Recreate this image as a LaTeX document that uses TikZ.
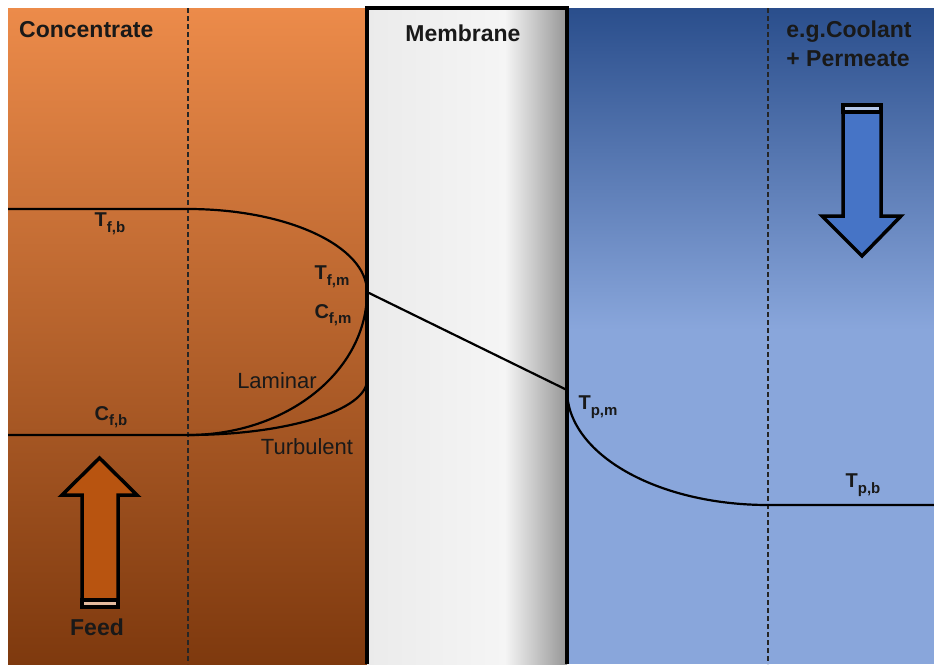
\documentclass[tikz,border=0pt]{standalone}
\usepackage{fontspec}
\setmainfont{Liberation Sans}
\definecolor{orangetop}{RGB}{236,139,74}
\definecolor{orangemid}{RGB}{196,104,44}
\definecolor{orangebot}{RGB}{126,57,14}
\definecolor{bluetop}{RGB}{42,78,140}
\definecolor{bluebot}{RGB}{137,166,219}
\definecolor{membranelight}{RGB}{235,235,235}
\definecolor{membraneshine}{RGB}{245,245,245}
\definecolor{membranedark}{RGB}{150,150,150}
\definecolor{feedfill}{RGB}{184,84,16}
\definecolor{coolfill}{RGB}{70,116,198}
\newcommand{\lbl}[2]{#1\raisebox{-0.28em}{\fontsize{15}{15}\selectfont #2}}

\begin{document}
\begin{tikzpicture}[x=1pt, y=-1pt,
  lab/.style={font=\bfseries\fontsize{23}{29}\selectfont, inner sep=0pt, text=black!90},
  var/.style={font=\bfseries\fontsize{20}{22}\selectfont, inner sep=0pt, text=black!90},
  regime/.style={font=\fontsize{22}{26}\selectfont, inner sep=0pt, text=black!90},
  profile/.style={line width=2.2pt},
  wall/.style={line width=3.5pt, line join=miter},
  film/.style={line width=2pt, dash pattern=on 5pt off 3pt},
  blockarrow/.style={line width=3.5pt, line join=miter}]
\fill[white] (0,0) rectangle (934,664);
\useasboundingbox (0,0) rectangle (934,664);

\shade[top color=orangetop, middle color=orangemid, bottom color=orangebot] (8,8) rectangle (367,664);
\fill[bluebot] (567,329) rectangle (934,664);
\shade[top color=bluetop, bottom color=bluebot] (567,8) rectangle (934,330);
\shade[left color=membranelight, right color=membraneshine] (367,8) rectangle (505,664);
\shade[left color=membraneshine, right color=membranedark] (505,8) rectangle (567,664);
\draw[wall] (367,664) -- (367,8) -- (567,8) -- (567,664);

\draw[film, black!85] (188,8) -- (188,664);
\draw[film, black!85] (768,8) -- (768,664);

\coordinate (tfb) at (8,209);
\coordinate (tfbend) at (188,209);
\coordinate (tfm) at (367,292);
\coordinate (cfb) at (8,435);
\coordinate (cfbend) at (188,435);
\coordinate (turb) at (367,380);
\coordinate (tpm) at (567,390);
\coordinate (tpbend) at (768,505);
\coordinate (tpb) at (934,505);

\draw[profile] (tfb) -- (tfbend) .. controls +(99,0) and +(0,-46) .. (tfm);
\draw[profile] (tfm) .. controls +(0,79) and +(99,0) .. (cfbend) -- (cfb);
\draw[profile] (turb) .. controls +(0,30) and +(99,0) .. (cfbend);
\draw[profile] (tfm) -- (tpm);
\draw[profile] (tpm) .. controls +(0,64) and +(-111,0) .. (tpbend) -- (tpb);

\draw[blockarrow, fill=feedfill] (82,600) -- (82,495) -- (62,495) -- (99.5,458) -- (137,495) -- (118,495) -- (118,600) -- cycle;
\draw[blockarrow, fill=feedfill!40] (82,600) rectangle (118,607);
\draw[blockarrow, fill=coolfill] (843,112) -- (843,216) -- (822,216) -- (862,256) -- (901,216) -- (881,216) -- (881,112) -- cycle;
\draw[blockarrow, fill=coolfill!40] (843,105) rectangle (881,112);

\node[lab, anchor=west] (concentrate) at (19,30) {Concentrate};
\node[lab] (membrane) at (463,33) {Membrane};
\node[lab, align=left] (coolant) at (849,44) {e.g.Coolant\\+ Permeate};
\node[lab] (feed) at (97,627) {Feed};

\node[var] (Tfb) at (110,224) {\lbl{T}{f,b}};
\node[var] (Cfb) at (111,417) {\lbl{C}{f,b}};
\node[var] (Tfm) at (332,277) {\lbl{T}{f,m}};
\node[var] (Cfm) at (333,315) {\lbl{C}{f,m}};
\node[var] (Tpm) at (598,407) {\lbl{T}{p,m}};
\node[var] (Tpb) at (863,485) {\lbl{T}{p,b}};

\node[regime] (laminar) at (277,381) {Laminar};
\node[regime] (turbulent) at (307,447) {Turbulent};
\end{tikzpicture}
\end{document}
